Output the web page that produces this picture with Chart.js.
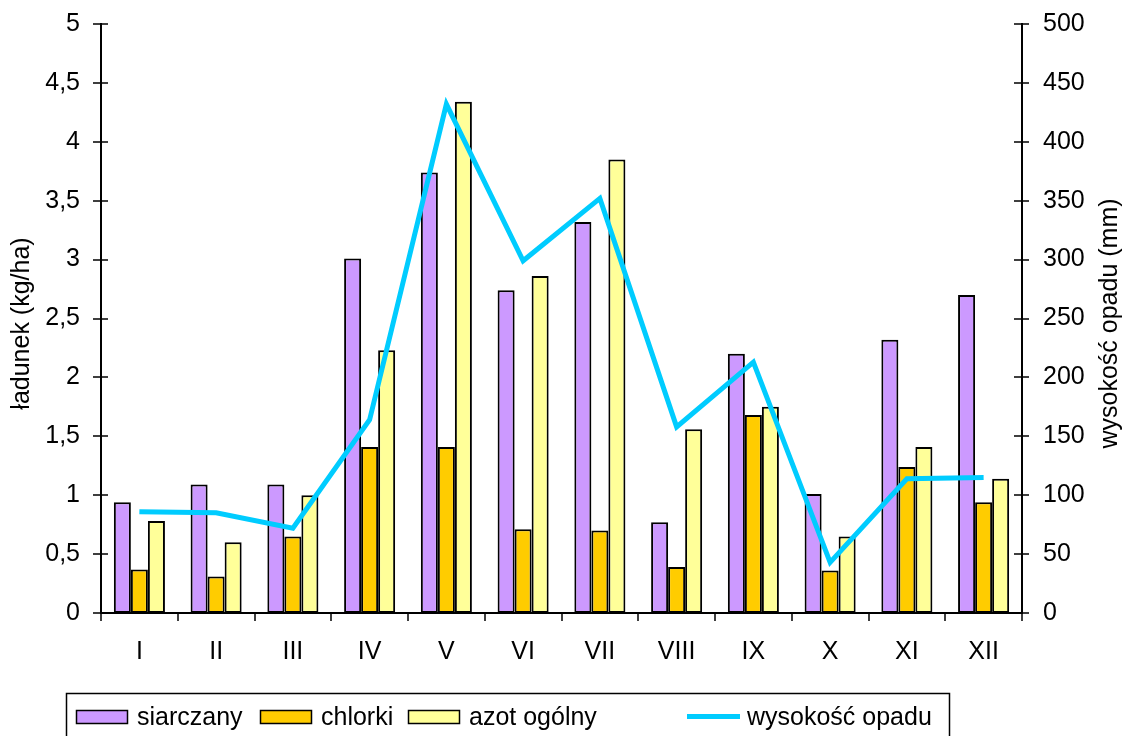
<!DOCTYPE html>
<html lang="pl">
<head>
<meta charset="utf-8">
<title>Ładunek i wysokość opadu</title>
<script src="https://cdn.jsdelivr.net/npm/chart.js@4.4.1/dist/chart.umd.min.js"></script>
<style>
  html, body { margin: 0; padding: 0; background: #ffffff; }
  canvas { display: block; }
</style>
</head>
<body>
<canvas id="chart" width="1129" height="736"></canvas>
<script>
// Months (Roman numerals)
const months = ['I', 'II', 'III', 'IV', 'V', 'VI', 'VII', 'VIII', 'IX', 'X', 'XI', 'XII'];

// Load per month, kg/ha
const siarczany = [0.94, 1.09, 1.09, 3.01, 3.74, 2.74, 3.32, 0.77, 2.20, 1.01, 2.32, 2.70];
const chlorki   = [0.37, 0.31, 0.65, 1.41, 1.41, 0.71, 0.70, 0.39, 1.68, 0.36, 1.24, 0.94];
const azotOgolny = [0.78, 0.60, 1.00, 2.23, 4.34, 2.86, 3.85, 1.56, 1.75, 0.65, 1.41, 1.14];

// Precipitation per month, mm
const opad = [86, 85, 72, 164, 432, 299, 352, 158, 213, 43, 114, 115];

// Axis settings
const loadAxis = { min: 0, max: 5, step: 0.5, title: 'ładunek (kg/ha)' };
const rainAxis = { min: 0, max: 500, step: 50, title: 'wysokość opadu (mm)' };

const FONT = "'Liberation Sans', Arial, sans-serif";
const TICK_SIZE = 25;
const TEXT_SIZE = 25;

// Axis lines, crossing tick marks and rotated axis titles
const axesFrame = {
  id: 'axesFrame',
  afterDatasetsDraw(chart) {
    const { ctx, chartArea: a, scales } = chart;
    ctx.save();
    ctx.strokeStyle = '#000';
    ctx.lineWidth = 2;
    ctx.beginPath();
    ctx.moveTo(a.left, a.top - 1); ctx.lineTo(a.left, a.bottom);
    ctx.moveTo(a.right, a.top - 1); ctx.lineTo(a.right, a.bottom);
    ctx.moveTo(a.left - 1, a.bottom); ctx.lineTo(a.right + 1, a.bottom);
    ctx.stroke();

    ctx.lineWidth = 1.5;
    ctx.beginPath();
    scales.y.ticks.forEach(t => {
      const py = Math.round(scales.y.getPixelForValue(t.value));
      ctx.moveTo(a.left - 8, py); ctx.lineTo(a.left + 7, py);
    });
    scales.y1.ticks.forEach(t => {
      const py = Math.round(scales.y1.getPixelForValue(t.value));
      ctx.moveTo(a.right - 8, py); ctx.lineTo(a.right + 7, py);
    });
    const n = months.length;
    for (let i = 0; i <= n; i++) {
      const px = Math.round(a.left + (a.right - a.left) * i / n);
      ctx.moveTo(px, a.bottom); ctx.lineTo(px, a.bottom + 8);
    }
    ctx.stroke();
    ctx.restore();
  },
  afterDraw(chart) {
    const { ctx, chartArea: a } = chart;
    const cy = (a.top + a.bottom) / 2 + 5;
    ctx.save();
    ctx.fillStyle = '#000';
    ctx.font = TEXT_SIZE + 'px ' + FONT;
    ctx.textAlign = 'center';
    ctx.textBaseline = 'middle';
    [[22, loadAxis.title], [1110, rainAxis.title]].forEach(([x, text]) => {
      ctx.save();
      ctx.translate(x, cy);
      ctx.rotate(-Math.PI / 2);
      ctx.fillText(text, 0, 0);
      ctx.restore();
    });
    ctx.restore();
  }
};

// Framed legend row under the chart
const framedLegend = {
  id: 'framedLegend',
  afterDraw(chart) {
    const { ctx } = chart;
    const slots = [76, 260, 408, 687];
    ctx.save();
    ctx.strokeStyle = '#000';
    ctx.lineWidth = 1.5;
    ctx.strokeRect(66.5, 693.5, 883, 60);
    ctx.font = TEXT_SIZE + 'px ' + FONT;
    ctx.textBaseline = 'alphabetic';
    ctx.textAlign = 'left';
    chart.data.datasets.forEach((ds, i) => {
      const x = slots[i];
      if (ds.type === 'line') {
        ctx.strokeStyle = ds.borderColor;
        ctx.lineWidth = 5;
        ctx.beginPath();
        ctx.moveTo(x, 716.5); ctx.lineTo(x + 53, 716.5);
        ctx.stroke();
        ctx.fillStyle = '#000';
        ctx.fillText(ds.label, x + 60, 725);
      } else {
        ctx.fillStyle = ds.backgroundColor;
        ctx.fillRect(x, 710, 52, 14);
        ctx.strokeStyle = '#000';
        ctx.lineWidth = 1.5;
        ctx.strokeRect(x + 0.5, 710.5, 51, 13);
        ctx.fillStyle = '#000';
        ctx.fillText(ds.label, x + 61, 725);
      }
    });
    ctx.restore();
  }
};

const barStyle = {
  borderColor: '#000000',
  borderWidth: 2,
  borderSkipped: false,
  categoryPercentage: 0.665,
  barPercentage: 1.0,
  yAxisID: 'y',
  order: 1
};

// Fixed side widths and no extra label overhang above/below the plot
function fitSide(width) {
  return scale => {
    scale.width = width;
    scale.paddingTop = 0;
    scale.paddingBottom = 0;
  };
}

new Chart(document.getElementById('chart'), {
  type: 'bar',
  data: {
    labels: months,
    datasets: [
      Object.assign({ label: 'siarczany', data: siarczany, backgroundColor: '#CC99FF' }, barStyle),
      Object.assign({ label: 'chlorki', data: chlorki, backgroundColor: '#FFCC00' }, barStyle),
      Object.assign({ label: 'azot ogólny', data: azotOgolny, backgroundColor: '#FFFF99' }, barStyle),
      {
        type: 'line',
        label: 'wysokość opadu',
        data: opad,
        yAxisID: 'y1',
        borderColor: '#00CCFF',
        backgroundColor: '#00CCFF',
        borderWidth: 5,
        pointRadius: 0,
        tension: 0,
        fill: false,
        borderJoinStyle: 'miter',
        order: 0
      }
    ]
  },
  options: {
    responsive: false,
    animation: false,
    devicePixelRatio: 1,
    layout: { padding: { top: 24, left: 0, right: 0, bottom: 0 } },
    plugins: {
      legend: { display: false },
      tooltip: { enabled: false },
      title: { display: false }
    },
    scales: {
      x: {
        offset: true,
        grid: { display: false, drawTicks: false },
        border: { display: false },
        ticks: { color: '#000', font: { family: FONT, size: TICK_SIZE }, padding: 24, maxRotation: 0, autoSkip: false },
        afterFit(scale) {
          scale.height = 123;
          scale.paddingLeft = 0;
          scale.paddingRight = 0;
        }
      },
      y: {
        position: 'left',
        min: loadAxis.min,
        max: loadAxis.max,
        grid: { display: false, drawTicks: false },
        border: { display: false },
        ticks: {
          stepSize: loadAxis.step,
          color: '#000',
          font: { family: FONT, size: TICK_SIZE },
          padding: 21,
          callback: v => String(Math.round(v * 10) / 10).replace('.', ',')
        },
        afterFit: fitSide(101)
      },
      y1: {
        position: 'right',
        min: rainAxis.min,
        max: rainAxis.max,
        grid: { display: false, drawTicks: false },
        border: { display: false },
        ticks: {
          stepSize: rainAxis.step,
          color: '#000',
          font: { family: FONT, size: TICK_SIZE },
          padding: 21
        },
        afterFit: fitSide(107)
      }
    }
  },
  plugins: [axesFrame, framedLegend]
});
</script>
</body>
</html>
